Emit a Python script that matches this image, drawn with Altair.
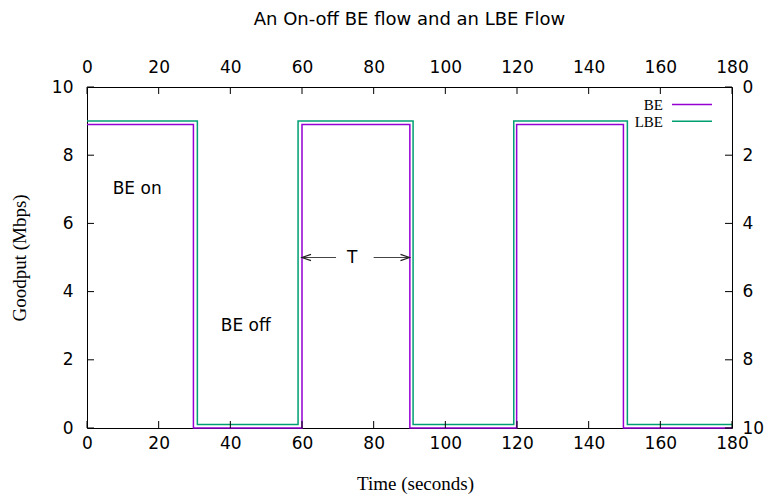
import altair as alt
import pandas as pd

title_text = "An On-off BE flow and an LBE Flow"
x_title = "Time (seconds)"
y_title = "Goodput (Mbps)"

# BE flow (left axis)
be_time = [0, 29.7, 60.0, 90.1, 119.9, 149.7, 180]
be_goodput = [8.9, 0.0, 8.9, 0.0, 8.9, 0.0, 0.0]
# LBE flow (right axis, reversed)
lbe_time = [0, 30.8, 58.9, 91.0, 119.1, 150.8, 180]
lbe_value = [1.0, 9.9, 1.0, 9.9, 1.0, 9.9, 9.9]

x_ticks = [0, 20, 40, 60, 80, 100, 120, 140, 160, 180]
y_ticks = [0, 2, 4, 6, 8, 10]
y2_ticks = [0, 2, 4, 6, 8, 10]

series_names = ["BE", "LBE"]
series_colors = ["#9400D3", "#009E73"]

label_text = ["BE on", "BE off", "T"]
label_x = [14, 44.3, 74]
label_y = [7, 3, 5]

arrow_from = [69.5, 80]
arrow_to = [60, 90]
arrow_y = [5, 5]

W, H = 645, 341
TICK = 7
SANS = "DejaVu Sans"
SERIF = "Liberation Serif"

be_df = pd.DataFrame({"time": be_time, "goodput": be_goodput})
lbe_df = pd.DataFrame({"time": lbe_time, "value": lbe_value})
xt_df = pd.DataFrame({"v": x_ticks})
yt_df = pd.DataFrame({"v": y_ticks})
y2t_df = pd.DataFrame({"v": y2_ticks})
lab_df = pd.DataFrame({"text": label_text, "x": label_x, "y": label_y})
arr_df = pd.DataFrame({"x1": arrow_from, "x2": arrow_to, "y": arrow_y})
left_head_df = arr_df[arr_df["x2"] < arr_df["x1"]]
right_head_df = arr_df[arr_df["x2"] > arr_df["x1"]]


def xs():
    return alt.Scale(domain=[0, 180], nice=False, zero=False)


def ys():
    return alt.Scale(domain=[0, 10], nice=False, zero=False)


def y2s():
    return alt.Scale(domain=[0, 10], nice=False, zero=False, reverse=True)


be_line = alt.Chart(be_df).mark_line(
    interpolate="step-after", color=series_colors[0], strokeWidth=1.5
).encode(
    x=alt.X("time:Q", scale=xs(), axis=alt.Axis(
        orient="bottom", values=x_ticks, title=x_title, labelPadding=7,
        labelFlush=False,
        titleX=328, titleY=55.6, titleBaseline="middle", titleAlign="center")),
    y=alt.Y("goodput:Q", scale=ys(), axis=alt.Axis(
        orient="left", values=y_ticks, title=y_title, labelPadding=14,
        titleX=-68, titleY=170.5, titleAngle=270, titleBaseline="middle",
        titleAlign="center")),
)

lbe_line = alt.Chart(lbe_df).mark_line(
    interpolate="step-after", color=series_colors[1], strokeWidth=1.5
).encode(
    x=alt.X("time:Q", scale=xs(), axis=alt.Axis(
        orient="top", values=x_ticks, title="", labelPadding=11,
        labelFlush=False)),
    y=alt.Y("value:Q", scale=y2s(), axis=alt.Axis(
        orient="right", values=y2_ticks, title="", labelPadding=10)),
)

bottom_ticks = alt.Chart(xt_df).mark_rule(color="black", strokeWidth=1).encode(
    x=alt.X("v:Q", scale=xs(), axis=None),
    y=alt.value(H), y2=alt.value(H - TICK),
)
top_ticks = alt.Chart(xt_df).mark_rule(color="black", strokeWidth=1).encode(
    x=alt.X("v:Q", scale=xs(), axis=None),
    y=alt.value(0), y2=alt.value(TICK),
)
left_ticks = alt.Chart(yt_df).mark_rule(color="black", strokeWidth=1).encode(
    y=alt.Y("v:Q", scale=ys(), axis=None),
    x=alt.value(0), x2=alt.value(TICK),
)
right_ticks = alt.Chart(y2t_df).mark_rule(color="black", strokeWidth=1).encode(
    y=alt.Y("v:Q", scale=y2s(), axis=None),
    x=alt.value(W - TICK), x2=alt.value(W),
)

labels = alt.Chart(lab_df).mark_text(
    font=SANS, fontSize=17, color="black", align="center", baseline="middle"
).encode(
    x=alt.X("x:Q", scale=xs(), axis=None),
    y=alt.Y("y:Q", scale=ys(), axis=None),
    text="text:N",
)

arrows = alt.Chart(arr_df).mark_rule(color="#444444", strokeWidth=1.2).encode(
    x=alt.X("x1:Q", scale=xs(), axis=None),
    x2="x2:Q",
    y=alt.Y("y:Q", scale=ys(), axis=None),
)
head_left = alt.Chart(left_head_df).mark_point(
    shape="M 2 -0.7 L 0 0 L 2 0.7", size=81, filled=False,
    color="#222222", strokeWidth=1.2, opacity=1
).encode(
    x=alt.X("x2:Q", scale=xs(), axis=None),
    y=alt.Y("y:Q", scale=ys(), axis=None),
)
head_right = alt.Chart(right_head_df).mark_point(
    shape="M -2 -0.7 L 0 0 L -2 0.7", size=81, filled=False,
    color="#222222", strokeWidth=1.2, opacity=1
).encode(
    x=alt.X("x2:Q", scale=xs(), axis=None),
    y=alt.Y("y:Q", scale=ys(), axis=None),
)

legend_layers = []
for i, (name, col) in enumerate(zip(series_names, series_colors)):
    ypix = 17.5 + i * 16.7
    ldf = pd.DataFrame({"name": [name]})
    legend_layers.append(
        alt.Chart(ldf).mark_text(font=SERIF, fontSize=15, color="black",
                                 align="right", baseline="middle").encode(
            x=alt.value(576), y=alt.value(ypix + 0.8), text="name:N")
    )
    legend_layers.append(
        alt.Chart(ldf).mark_rule(color=col, strokeWidth=1.5).encode(
            x=alt.value(585), x2=alt.value(625), y=alt.value(ypix))
    )

chart = alt.layer(
    be_line, lbe_line, bottom_ticks, top_ticks, left_ticks, right_ticks,
    labels, arrows, head_left, head_right, *legend_layers
).resolve_scale(
    x="independent", y="independent"
).properties(
    width=W, height=H,
    title=alt.TitleParams(text=title_text, font=SANS, fontSize=18,
                          fontWeight="normal", color="black",
                          anchor="middle", offset=29),
    padding={"left": 79, "top": 79, "right": 32, "bottom": 68},
    autosize=alt.AutoSizeParams(type="none"),
).configure_view(
    stroke="black", strokeWidth=1
).configure_axis(
    domain=False, ticks=False, grid=False,
    labelFont=SANS, labelFontSize=17, labelColor="black",
    titleFont=SERIF, titleFontSize=19, titleFontWeight="normal",
    titleColor="black",
)

chart.save("out.html", embed_options={"renderer": "svg", "actions": False})
